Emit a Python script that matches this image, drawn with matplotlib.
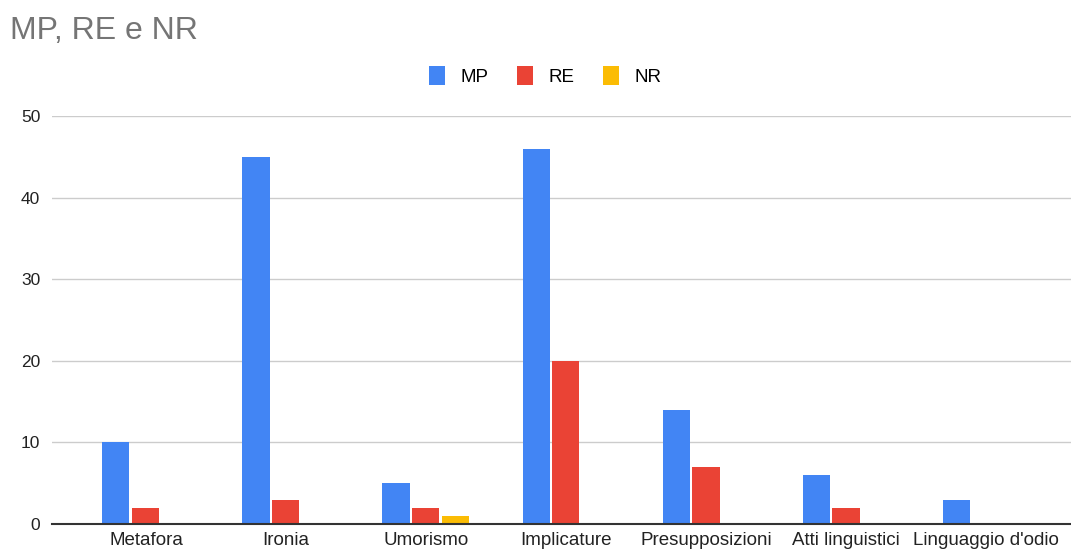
import numpy as np
import matplotlib.pyplot as plt

plt.rcParams['font.family'] = ['Liberation Sans', 'DejaVu Sans']

# Data
categories = ['Metafora', 'Ironia', 'Umorismo', 'Implicature',
              'Presupposizioni', 'Atti linguistici', "Linguaggio d'odio"]
mp = [10, 45, 5, 46, 14, 6, 3]
re_vals = [2, 3, 2, 20, 7, 2, 0]
nr = [0, 0, 1, 0, 0, 0, 0]

series = [('MP', mp, '#4285F4'), ('RE', re_vals, '#EA4335'), ('NR', nr, '#FBBC04')]

fig = plt.figure(figsize=(10.71, 5.52), dpi=100)
ax = fig.add_axes([52 / 1071, 1 - 524 / 552, 1 - 52 / 1071, (524 - 116) / 552])

x = np.arange(len(categories))
width = 0.193
step = 0.214
for i, (name, vals, color) in enumerate(series):
    ax.bar(x + (i - 1) * step, vals, width, color=color, label=name, zorder=3)

ax.set_xlim(-0.671, 6.607)
ax.set_ylim(0, 50)
ax.set_yticks([0, 10, 20, 30, 40, 50])
ax.set_xticks(x)
ax.set_xticklabels(categories, fontsize=13.5, color='#222222')
ax.tick_params(axis='y', labelsize=12.5, colors='#222222', length=0, pad=8.5)
ax.tick_params(axis='x', length=0, pad=6)
ax.grid(axis='y', color='#cccccc', linewidth=1, zorder=0)
for s in ['top', 'right', 'left']:
    ax.spines[s].set_visible(False)
ax.spines['bottom'].set_color('#333333')
ax.spines['bottom'].set_linewidth(1.5)
ax.spines['bottom'].set_zorder(4)

fig.text(10 / 1071, 1 - 31 / 552, 'MP, RE e NR', fontsize=23, color='#757575',
         va='center', ha='left')

fig.legend(loc='center', bbox_to_anchor=(545 / 1071, 1 - 76 / 552), ncol=3,
           frameon=False, fontsize=13.5, handlelength=0.9, handleheight=1.2,
           handletextpad=0.8, columnspacing=1.5)

fig.savefig('out.png', dpi=100)
